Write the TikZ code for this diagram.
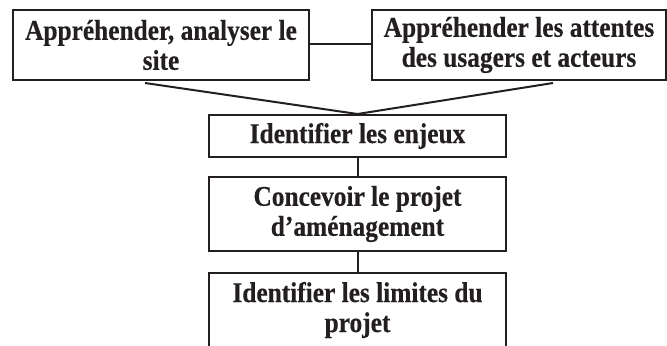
\documentclass[tikz,border=0pt]{standalone}
\usepackage{fontspec}
\setmainfont{Liberation Serif}[BoldFeatures={FakeStretch=0.89,FakeBold=0.4}]
\definecolor{ink}{HTML}{231F20}
\tikzset{
  boxnode/.style={draw=ink, line width=2bp, rectangle, inner sep=0pt, align=center,
    font=\fontsize{28.5bp}{30bp}\selectfont\bfseries, text=ink},
  link/.style={draw=ink, line width=2bp}
}
\begin{document}
\begin{tikzpicture}[x=1bp,y=-1bp]
\useasboundingbox (0,0) rectangle (667,345);
\clip (0,0) rectangle (667,345);
\node[boxnode, minimum width=296bp, minimum height=70bp] (A) at (161,45) {Appréhender, analyser le\\site};
\node[boxnode, minimum width=294bp, minimum height=70bp] (B) at (519,45) {Appréhender les attentes\\des usagers et acteurs};
\node[boxnode, minimum width=297bp, minimum height=42bp] (C) at (357.5,136) {Identifier les enjeux};
\node[boxnode, minimum width=297bp, minimum height=74bp] (D) at (357.5,214) {Concevoir le projet\\d’aménagement};
\node[boxnode, minimum width=297bp, minimum height=74bp] (E) at (357.5,310) {Identifier les limites du\\projet};
\coordinate (vl) at (145,83);
\coordinate (vr) at (553,83);
\draw[link] (A.east |- 0,44) -- (B.west |- 0,44);
\draw[link] (vl) -- (C.north) -- (vr);
\draw[link] (C.south) -- (D.north);
\draw[link] (D.south) -- (E.north);
\end{tikzpicture}
\end{document}
